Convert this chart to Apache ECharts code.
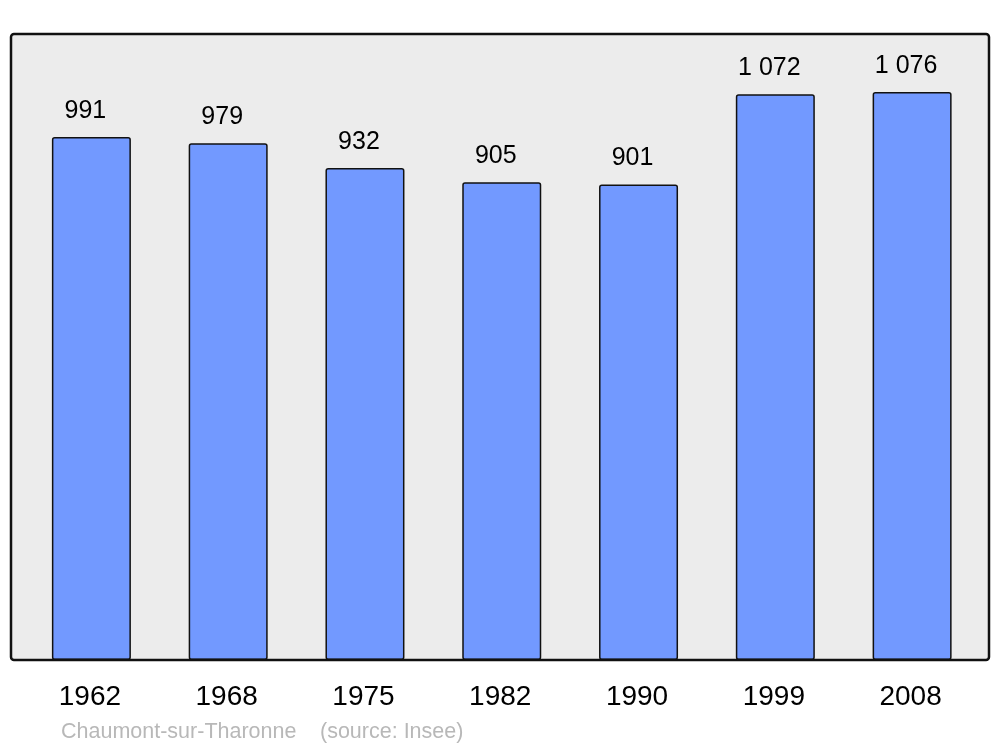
<!DOCTYPE html>
<html>
<head>
<meta charset="utf-8">
<script src="https://cdn.jsdelivr.net/npm/echarts@6/dist/echarts.min.js"></script>
<style>
html,body{margin:0;padding:0;background:#fff;}
#chart{width:1000px;height:747px;}
</style>
</head>
<body>
<div id="chart"></div>
<script>
const years = ['1962','1968','1975','1982','1990','1999','2008'];
const population = [991, 979, 932, 905, 901, 1072, 1076];
const footerName = 'Chaumont-sur-Tharonne';
const footerSource = '(source: Insee)';

function fmt(v){
  return String(v).replace(/\B(?=(\d{3})+(?!\d))/g, ' ');
}

const chart = echarts.init(document.getElementById('chart'), null, {renderer:'canvas'});
chart.setOption({
  animation:false,
  backgroundColor:'#ffffff',
  textStyle:{fontFamily:'"Liberation Sans", Arial, sans-serif'},
  grid:{left:23, right:19.5, top:34, bottom:87},
  graphic:[
    {type:'rect', z:-10, shape:{x:11, y:34, width:978, height:626, r:3},
     style:{fill:'#ececec', stroke:null}},
    {type:'rect', z:100, silent:true, shape:{x:11, y:34, width:978, height:626, r:3},
     style:{fill:null, stroke:'#111', lineWidth:2.5}},
    {type:'text', left:61, top:721,
     style:{text:footerName, fill:'#b8b8b8', font:'21.5px "Liberation Sans", Arial, sans-serif'}},
    {type:'text', left:320, top:721,
     style:{text:footerSource, fill:'#b8b8b8', font:'21.5px "Liberation Sans", Arial, sans-serif'}}
  ],
  xAxis:{
    type:'category', data:years,
    axisLine:{show:false}, axisTick:{show:false},
    axisLabel:{color:'#000', fontSize:28, margin:23, padding:[0,3,0,0]}
  },
  yAxis:{
    type:'value', min:0, max:1186,
    show:false, splitLine:{show:false}
  },
  series:[{
    type:'bar', data:population, barWidth:79,
    itemStyle:{color:'#7299ff', borderColor:'#111', borderWidth:1.5, borderRadius:2},
    label:{show:true, position:'top', distance:13.5, offset:[-6,0], color:'#000', fontSize:25,
      formatter:p=>fmt(p.value)}
  }]
});
</script>
</body>
</html>
